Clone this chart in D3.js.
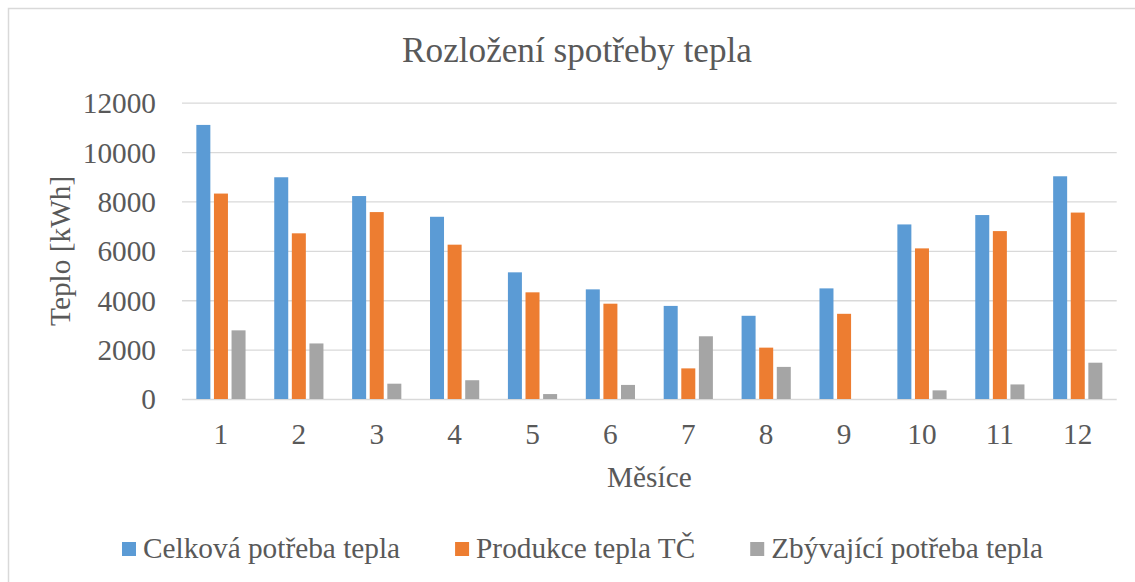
<!DOCTYPE html>
<html><head><meta charset="utf-8">
<script src="https://cdn.jsdelivr.net/npm/d3@7"></script>
<style>
html,body{margin:0;padding:0;background:#fff;}
</style></head>
<body><svg id="c" width="1135" height="582"></svg>
<script>
const months = ["1","2","3","4","5","6","7","8","9","10","11","12"];
const seriesNames = ["Celková potřeba tepla","Produkce tepla TČ","Zbývající potřeba tepla"];
const celkova = [11100, 8980, 8220, 7380, 5130, 4440, 3770, 3370, 4480, 7070, 7450, 9020];
const produkce = [8320, 6710, 7570, 6250, 4320, 3860, 1240, 2080, 3450, 6100, 6800, 7550];
const zbyvajici = [2780, 2250, 620, 760, 200, 570, 2540, 1300, 0, 350, 590, 1470];
const yTicks = [0, 2000, 4000, 6000, 8000, 10000, 12000];
const colors = ["#5b9bd5", "#ed7d31", "#a5a5a5"];

(function () {
const FONT = '"Liberation Serif"';
const TXT = "#595959";
const FS = "29.3px";
const seriesData = [celkova, produkce, zbyvajici];
const svg = d3.select("#c");

// chart border
svg.append("rect").attr("x", 8.5).attr("y", 8.5).attr("width", 1200).attr("height", 700)
  .attr("fill", "none").attr("stroke", "#d9d9d9").attr("stroke-width", 1.5);

const pL = 182, pR = 1116.7, pT = 102.7, pB = 399;
const x0 = d3.scaleBand().domain(months).range([pL, pR]).paddingInner(0).paddingOuter(0);
const step = 17.6;
const groupW = step * 3;
const x1 = d3.scaleBand().domain(d3.range(3)).range([0, groupW]).padding(0);
const y = d3.scaleLinear().domain([0, 12000]).range([pB, pT]);

// gridlines
const yAxis = d3.axisLeft(y).tickValues(yTicks).tickSize(-(pR - pL)).tickFormat(d => d);
const gy = svg.append("g").attr("transform", `translate(${pL},0)`).call(yAxis);
gy.select(".domain").remove();
gy.selectAll(".tick line").attr("stroke", "#d9d9d9").attr("stroke-width", 1.3);
gy.selectAll(".tick text").attr("x", -26).attr("dy", "0.34em")
  .style("font-size", FS).style("font-family", FONT).style("fill", TXT);

// bars
const off = (x0.bandwidth() - groupW) / 2;
seriesData.forEach((vals, si) => {
  svg.append("g").selectAll("rect").data(vals).join("rect")
    .attr("x", (d, i) => x0(months[i]) + off + x1(si) + 1.8)
    .attr("width", x1.bandwidth() - 3.6)
    .attr("y", d => y(d))
    .attr("height", d => y(0) - y(d))
    .attr("fill", colors[si]);
});

// x axis
const xAxis = d3.axisBottom(x0).tickSize(0).tickPadding(0);
const gx = svg.append("g").attr("transform", `translate(0,${pB})`).call(xAxis);
gx.select(".domain").remove();
gx.selectAll(".tick text").attr("y", 45).attr("dy", 0)
  .style("font-size", FS).style("font-family", FONT).style("fill", TXT);

// title
svg.append("text").attr("x", 577).attr("y", 62).attr("text-anchor", "middle")
  .style("font-size", "35.2px").style("font-family", FONT).style("fill", TXT)
  .text("Rozložení spotřeby tepla");

// axis titles
svg.append("text").attr("x", (pL + pR) / 2).attr("y", 487).attr("text-anchor", "middle")
  .style("font-size", FS).style("font-family", FONT).style("fill", TXT).text("Měsíce");
svg.append("text").attr("transform", `translate(70,${(pT + pB) / 2}) rotate(-90)`)
  .attr("text-anchor", "middle").style("font-size", FS).style("font-family", FONT).style("fill", TXT)
  .text("Teplo [kWh]");

// legend
const lg = svg.append("g");
let lx = 122;
seriesNames.forEach((name, i) => {
  lg.append("rect").attr("x", lx).attr("y", 542).attr("width", 14).attr("height", 14).attr("fill", colors[i]);
  const t = lg.append("text").attr("x", lx + 21).attr("y", 558)
    .style("font-size", FS).style("font-family", FONT).style("fill", TXT).text(name);
  const w = t.node().getComputedTextLength();
  lx += 21 + w + 55;
});
})();
</script></body></html>
